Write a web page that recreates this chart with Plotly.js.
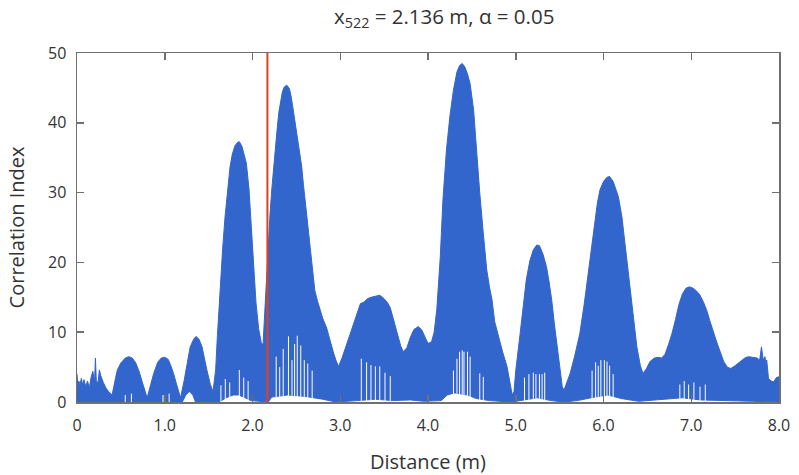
<!DOCTYPE html>
<html>
<head>
<meta charset="utf-8">
<script src="https://cdn.plot.ly/plotly-3.0.1.min.js"></script>
<style>html,body{margin:0;padding:0;background:#fff;}#chart{width:799px;height:475px;}</style>
</head>
<body>
<div id="chart"></div>
<script>
// Upper envelope of the correlation index
const upperX = [0.00,0.01,0.02,0.035,0.05,0.065,0.08,0.10,0.12,0.14,0.16,0.18,0.20,0.21,0.22,0.24,0.255,0.27,0.30,0.33,0.36,0.40,0.44,0.46,0.50,0.55,0.59,0.63,0.67,0.71,0.75,0.79,0.80,0.84,0.874,0.92,0.96,1.00,1.04,1.07,1.10,1.14,1.18,1.22,1.254,1.29,1.33,1.356,1.39,1.425,1.48,1.52,1.55,1.58,1.60,1.63,1.66,1.687,1.72,1.744,1.77,1.80,1.83,1.85,1.88,1.90,1.93,1.96,1.99,2.02,2.04,2.07,2.10,2.12,2.15,2.18,2.20,2.22,2.24,2.26,2.28,2.30,2.32,2.34,2.36,2.39,2.42,2.44,2.46,2.48,2.50,2.52,2.54,2.56,2.58,2.60,2.62,2.64,2.66,2.69,2.71,2.74,2.77,2.80,2.845,2.88,2.92,2.95,2.98,3.02,3.05,3.10,3.15,3.19,3.23,3.27,3.31,3.35,3.40,3.45,3.50,3.54,3.57,3.60,3.63,3.66,3.69,3.72,3.76,3.80,3.84,3.89,3.93,3.97,4.00,4.04,4.07,4.10,4.14,4.17,4.21,4.25,4.29,4.33,4.36,4.39,4.42,4.45,4.48,4.52,4.55,4.59,4.63,4.67,4.70,4.73,4.76,4.80,4.85,4.90,4.93,4.96,4.98,5.00,5.05,5.09,5.12,5.16,5.20,5.24,5.27,5.31,5.35,5.38,5.41,5.44,5.47,5.50,5.53,5.55,5.58,5.62,5.67,5.73,5.78,5.83,5.87,5.90,5.93,5.96,6.00,6.04,6.07,6.11,6.14,6.17,6.21,6.24,6.27,6.30,6.34,6.38,6.42,6.45,6.49,6.53,6.58,6.63,6.66,6.70,6.74,6.78,6.82,6.86,6.90,6.94,6.98,7.02,7.06,7.10,7.14,7.18,7.21,7.25,7.29,7.33,7.37,7.41,7.45,7.50,7.56,7.61,7.65,7.70,7.75,7.78,7.80,7.82,7.84,7.85,7.86,7.88,7.91,7.94,7.97,8.00];
const upperY = [4.0,2.2,3.0,2.5,3.4,2.4,3.2,2.2,3.0,2.0,3.5,4.4,3.0,6.3,3.0,2.8,4.6,3.8,2.8,2.0,1.5,1.0,3.5,4.6,5.6,6.3,6.5,6.3,5.6,4.3,2.6,0.9,0.6,2.5,4.1,5.7,6.3,6.4,6.1,5.2,4.1,2.3,0.6,3.0,5.5,7.9,9.0,9.4,9.0,7.9,4.6,2.5,1.5,4.6,9.5,16.0,22.0,26.5,31.0,33.7,35.5,36.7,37.2,37.3,36.6,35.6,34.2,30.5,24.6,18.0,14.2,10.5,8.5,8.2,16.0,22.0,27.0,30.5,33.7,36.5,39.0,41.5,43.2,44.4,45.1,45.4,44.9,43.8,42.2,40.6,39.0,37.5,35.8,33.8,31.2,28.9,26.5,24.2,22.0,17.8,16.0,14.5,13.2,12.0,10.6,8.9,7.2,6.0,5.1,6.3,7.4,9.5,11.3,12.8,14.1,14.3,14.8,15.0,15.2,15.3,14.8,14.2,13.5,12.2,10.8,9.4,8.0,7.2,7.8,9.3,10.4,10.8,10.3,9.2,8.4,8.6,10.0,13.2,20.8,28.9,36.1,41.0,44.7,47.3,48.2,48.5,48.0,47.0,45.6,41.8,36.1,29.9,24.2,18.9,16.5,14.6,11.5,9.4,7.2,5.1,3.0,1.0,1.5,4.5,9.8,14.0,17.5,20.2,21.8,22.5,22.4,21.2,19.4,17.2,14.6,11.2,7.9,5.0,2.2,1.7,2.8,4.1,6.5,9.8,14.0,18.9,23.0,26.1,28.5,30.4,31.6,32.2,32.3,31.6,30.6,29.4,26.5,23.2,19.5,16.0,11.5,7.9,5.2,4.1,4.8,5.8,6.3,6.4,6.3,6.8,8.2,9.8,11.8,14.0,15.5,16.3,16.5,16.3,15.9,15.3,14.3,13.0,11.7,10.0,8.6,7.2,5.8,5.0,4.8,5.2,5.8,6.3,6.5,6.4,6.3,6.0,7.9,6.0,6.5,5.5,6.0,3.4,3.0,2.9,3.5,3.6];

// Lower envelope
const lowerX = [0.00,0.40,1.20,1.24,1.28,1.32,1.35,1.62,1.70,1.78,1.84,1.90,1.98,2.18,2.22,2.40,2.60,2.80,2.95,3.20,3.40,3.60,3.80,3.95,4.15,4.22,4.30,4.45,4.55,4.70,4.95,5.10,5.25,5.40,5.55,5.70,5.90,6.05,6.20,6.40,6.60,6.90,7.10,7.40,7.70,8.00];
const lowerY = [0,0,0,1.0,1.5,1.0,0,0,0.6,1.0,1.0,0.7,0.2,0,0.7,1.0,0.8,0.4,0,0.2,0.4,0.2,0.3,0.1,0.2,1.0,1.3,1.0,0.5,0.2,0,0.3,0.6,0.2,0,0.2,0.7,1.0,0.5,0.1,0.3,0.6,0.3,0.2,0.1,0];

// Prominent white gaps reaching up into the filled region
const gapX   = [0.55,0.62,0.98,1.05,1.64,1.69,1.74,1.85,1.90,1.95,2.27,2.31,2.35,2.41,2.45,2.48,2.51,2.55,2.59,2.63,2.68,3.24,3.30,3.35,3.40,3.45,3.51,3.57,4.29,4.33,4.36,4.39,4.41,4.45,4.48,4.59,4.63,5.10,5.15,5.20,5.23,5.27,5.30,5.33,5.87,5.91,5.94,5.97,6.01,6.04,6.07,6.11,6.87,6.92,6.97,7.03,7.10,7.16];
const gapTop = [1.0,1.2,1.0,1.2,2.4,3.3,2.8,4.6,3.5,3.0,6.5,5.0,7.6,9.4,6.0,8.3,9.5,8.1,6.0,5.5,4.5,6.2,5.7,5.3,5.1,5.1,4.2,3.7,4.5,6.2,7.2,7.4,7.2,7.2,6.5,4.1,3.6,3.5,4.0,4.2,4.0,4.0,4.0,4.2,4.5,5.7,5.2,6.0,6.0,5.8,5.2,4.0,2.5,3.0,2.5,2.8,2.2,2.5];

// Marker position
const markX = 2.17;
const yRange = [0, 50];
const xRange = [0, 8];
const xTickVals = [0,1,2,3,4,5,6,7,8];
const xTickText = ['0','1.0','2.0','3.0','4.0','5.0','6.0','7.0','8.0'];
const yTickVals = [0,10,20,30,40,50];

const blue = '#3366cc';
const polyX = upperX.concat(lowerX.slice().reverse());
const polyY = upperY.concat(lowerY.slice().reverse());

const gx = [], gy = [];
gapX.forEach((x, i) => { gx.push(x, x, null); gy.push(0, gapTop[i], null); });

const traces = [
  {x: polyX, y: polyY, type: 'scatter', mode: 'lines', fill: 'toself', fillcolor: blue,
   line: {color: blue, width: 1}, hoverinfo: 'skip', showlegend: false},
  {x: gx, y: gy, type: 'scatter', mode: 'lines', line: {color: '#ffffff', width: 1},
   hoverinfo: 'skip', showlegend: false, connectgaps: false},
  {x: [markX, markX], y: yRange, type: 'scatter', mode: 'lines',
   line: {color: '#e0401c', width: 2}, showlegend: false}
];

const FONT = '"Open Sans", sans-serif';
const axisCommon = {
  showgrid: false, zeroline: false, showline: true, linecolor: '#707070', linewidth: 1.5,
  mirror: 'ticks', ticks: 'inside', ticklen: 7, tickwidth: 1.5, tickcolor: '#707070',
  tickfont: {family: FONT, size: 16, color: '#333333'}
};

const layout = {
  width: 799, height: 475,
  margin: {l: 77, r: 20, t: 53, b: 73},
  paper_bgcolor: '#ffffff', plot_bgcolor: '#ffffff',
  font: {family: FONT, color: '#333333'},
  title: {text: 'x<sub>522</sub> = 2.136 m, α = 0.05', x: 0.556, xanchor: 'center', y: 0.965, yanchor: 'middle',
          font: {family: FONT, size: 20.5, color: '#333333'}},
  xaxis: Object.assign({}, axisCommon, {range: xRange, tickvals: xTickVals, ticktext: xTickText,
          ticklabelstandoff: 8,
          title: {text: 'Distance (m)', font: {family: FONT, size: 20, color: '#333333'}, standoff: 22}}),
  yaxis: Object.assign({}, axisCommon, {range: yRange, tickvals: yTickVals,
          ticklabelstandoff: 6,
          title: {text: 'Correlation Index', font: {family: FONT, size: 20, color: '#333333'}, standoff: 18}})
};

Plotly.newPlot('chart', traces, layout, {displayModeBar: false, staticPlot: true});
</script>
</body>
</html>
